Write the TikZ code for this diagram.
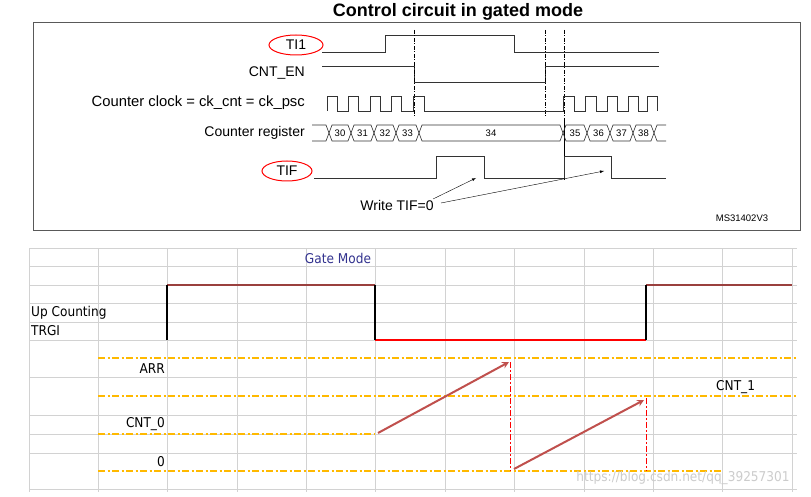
\documentclass[tikz,border=0pt]{standalone}
\usepackage{fontspec}
\setmainfont{Liberation Sans}
\newfontfamily\tah{DejaVu Sans Condensed}
\definecolor{org}{RGB}{255,185,0}
\definecolor{brn}{RGB}{192,80,77}
\begin{document}
\begin{tikzpicture}[x=1pt,y=-1pt,
  sig/.style={line width=0.6pt,black!80},
  lab/.style={font=\fontsize{14}{16}\selectfont,inner sep=0},
  num/.style={font=\fontsize{9.5}{10}\selectfont,inner sep=0},
  blab/.style={font=\tah\fontsize{13.5}{15}\selectfont,inner sep=0},
  grid/.style={gray!35,line width=0.5pt},
  orng/.style={org,line width=1.3pt,dash pattern=on 7pt off 2.5pt on 2pt off 2.5pt},
  rdd/.style={red,line width=1pt,dash pattern=on 6pt off 2pt on 2pt off 2pt},
  arr/.style={-stealth,line width=2pt,brn}]
\useasboundingbox (0,0) rectangle (811,497);
\fill[white] (0,0) rectangle (811,497);
% ---------- top ----------
\node[font=\bfseries\fontsize{18}{20}\selectfont] (title) at (458,12) {Control circuit in gated mode};
\draw[gray!70!black,line width=0.6pt] (33,22) rectangle (800,230);
\node[lab] (ti1) at (296,45) {TI1};
\draw[red,line width=1pt] (ti1) ellipse (27pt and 10pt);
\node[lab,anchor=east] (cnten) at (305,73) {CNT\_EN};
\node[lab,anchor=east,font=\fontsize{14.8}{16}\selectfont] (clk) at (305,103) {Counter clock = ck\_cnt = ck\_psc};
\node[lab,anchor=east] (reg) at (305,133) {Counter register};
\node[lab] (tif) at (287,171) {TIF};
\draw[red,line width=1pt] (tif) ellipse (25pt and 10pt);
% TI1
\draw[sig] (322,52) -- (385,52) -- (385,35) -- (514,35) -- (514,52) -- (659,52);
% CNT_EN
\draw[sig] (322,66) -- (414,66) -- (414,82) -- (545,82) -- (545,66) -- (659,66);
% dashed verticals
\draw[black,line width=0.4pt,dash pattern=on 4pt off 1.5pt on 1pt off 1.5pt] (414,30) -- (414,118);
\draw[black,line width=0.4pt,dash pattern=on 4pt off 1.5pt on 1pt off 1.5pt] (545,30) -- (545,118);
\draw[black,line width=0.4pt,dash pattern=on 4pt off 1.5pt on 1pt off 1.5pt] (564,30) -- (564,118);
\draw[black,line width=0.5pt] (564,118) -- (564,180);
% clock
\draw[sig] (327,111)
  \foreach \a/\b in {327/337,348/358,370/380,391/401,413/424,563/574,585/596,607/617,628/638,647/657}{ -- (\a,111) -- (\a,96) -- (\b,96) -- (\b,111)} ;
\draw[sig] (424,111) -- (563,111);
% bus
\draw[sig] (312,125) -- (326,125) -- (329,133) -- (326,141) -- (312,141);
\foreach \a/\b/\t in {329/351/30,351/374/31,374/396/32,396/419/33,419/563/34,563/587/35,587/610/36,610/633/37,633/654/38}{
  \draw[sig] (\a,133) -- (\a+3,125) -- (\b-3,125) -- (\b,133) -- (\b-3,141) -- (\a+3,141) -- cycle;
  \node[num] at ({(\a+\b)/2},133) {\t};}
\draw[sig] (666,125) -- (657,125) -- (654,133) -- (657,141) -- (666,141);
% TIF
\draw[sig] (314,178) -- (436,178) -- (436,156) -- (484,156) -- (484,178) -- (564,178) -- (564,156) -- (611,156) -- (611,178) -- (666,178);
\node[lab] (wtif) at (397,205) {Write TIF=0};
\coordinate (w1) at (476,178);
\coordinate (w2) at (604,171);
\draw[-latex,line width=0.4pt] (433,199) -- (w1);
\draw[-latex,line width=0.4pt] (441,203) -- (w2);
\node[font=\fontsize{9.5}{10}\selectfont] (ms) at (742,218) {MS31402V3};
% ---------- bottom ----------
\foreach \y in {248,266,285,303,322,340,377,415,434,453,489} \draw[grid] (29,\y) -- (797,\y);
\foreach \x in {29,98,167,237,306,375,445,514,584,653,722,792} \draw[grid] (\x,248) -- (\x,492);
\node[blab,text=blue!45!black!80] (gm) at (338,258) {Gate Mode};
\node[blab,anchor=west] (up) at (31,313) {Up Counting};
\node[blab,anchor=west] (trgi) at (31,331) {TRGI};
\draw[brn!80!black,line width=1.3pt] (167,285) -- (375,285);
\draw[red,line width=1.5pt] (375,340) -- (646,340);
\draw[brn!80!black,line width=1.3pt] (646,285) -- (792,285);
\draw[black,line width=1.2pt] (167,285) -- (167,340);
\draw[black,line width=1.2pt] (375,285) -- (375,340);
\draw[black,line width=1.2pt] (646,285) -- (646,340);
\draw[orng] (98,358) -- (797,358);
\draw[orng] (98,396) -- (797,396);
\draw[orng] (98,434) -- (375,434);
\draw[orng] (98,471) -- (722,471);
\node[blab,anchor=east] (arrl) at (165,369) {ARR};
\node[blab,anchor=east] (c0) at (165,424) {CNT\_0};
\node[blab,anchor=east] (z) at (165,462) {0};
\node[blab,anchor=west] (c1) at (716,387) {CNT\_1};
\draw[rdd] (510,362) -- (510,471);
\draw[rdd] (646,398) -- (646,471);
\coordinate (a1) at (378,433); \coordinate (a2) at (509,362);
\coordinate (b1) at (514,469); \coordinate (b2) at (644,400);
\draw[arr] (a1) -- (a2);
\draw[arr] (b1) -- (b2);
\node[inner sep=0,text=gray!40,font=\tah\fontsize{13.5}{15}\selectfont] (wm) at (683,478) {https://blog.csdn.net/qq\_39257301};
\end{tikzpicture}
\end{document}
